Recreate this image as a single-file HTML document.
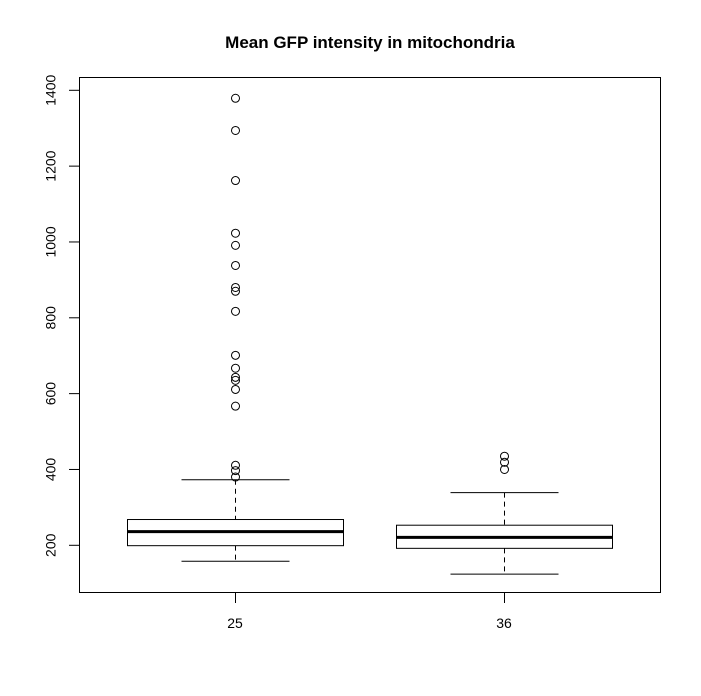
<!DOCTYPE html>
<html><head><meta charset="utf-8"><style>
body{margin:0;background:#fff;}
svg text{font-family:"Liberation Sans",Arial,sans-serif;}
</style></head><body>
<svg id="chart" width="701" height="691" xmlns="http://www.w3.org/2000/svg">
<text x="370" y="48" text-anchor="middle" font-size="17" font-weight="bold">Mean GFP intensity in mitochondria</text>
<rect x="79.5" y="77.5" width="581" height="515" fill="none" stroke="#000"/>
<g id="axes"></g><g id="boxes"></g>
</svg>
<script>
const categories = ["25","36"];
const lowerWhisker = [158, 124];
const q1 = [199, 192];
const medians = [236, 221];
const q3 = [268, 253];
const upperWhisker = [373, 339];
const outliers = [
  [1379,1294,1162,1023,991,938,880,870,817,701,667,643,635,611,567,411,397,380],
  [435,419,400]
];
const yTicks = [200,400,600,800,1000,1200,1400];

const NS="http://www.w3.org/2000/svg";
function y(v){return 545.3-(v-200)*0.37917;}
function x(i){return 235+i*269;}
function mk(tag,attrs,parent){const e=document.createElementNS(NS,tag);for(const k in attrs)e.setAttribute(k,attrs[k]);parent.appendChild(e);return e;}
const axes=document.getElementById('axes'), boxes=document.getElementById('boxes');
yTicks.forEach(t=>{
  const l=mk('line',{x1:69,x2:79.5,y1:y(t),y2:y(t),stroke:'#000'},axes);
  
  
  const tx=mk('text',{x:0,y:0,'font-size':14,'text-anchor':'middle',transform:`translate(55.5,${y(t)}) rotate(-90)`},axes);
  tx.textContent=t;
  
  
});
categories.forEach((c,i)=>{
  const l=mk('line',{x1:x(i)+.5,x2:x(i)+.5,y1:592.5,y2:603,stroke:'#000'},axes);
  
  
  const tx=mk('text',{x:x(i),y:628,'font-size':14,'text-anchor':'middle'},axes);
  tx.textContent=c;
  
  
  const g=mk('g',{},boxes);
  
  
  const cx=x(i)+.5;
  mk('line',{x1:cx,x2:cx,y1:y(upperWhisker[i]),y2:y(q3[i]),stroke:'#000','stroke-dasharray':'5,4'},g);
  mk('line',{x1:cx,x2:cx,y1:y(q1[i]),y2:y(lowerWhisker[i]),stroke:'#000','stroke-dasharray':'5,4'},g);
  mk('line',{x1:cx-54,x2:cx+54,y1:y(upperWhisker[i]),y2:y(upperWhisker[i]),stroke:'#000'},g);
  mk('line',{x1:cx-54,x2:cx+54,y1:y(lowerWhisker[i]),y2:y(lowerWhisker[i]),stroke:'#000'},g);
  mk('rect',{x:cx-108,y:y(q3[i]),width:216,height:y(q1[i])-y(q3[i]),fill:'#fff',stroke:'#000'},g);
  mk('line',{x1:cx-108,x2:cx+108,y1:y(medians[i]),y2:y(medians[i]),stroke:'#000','stroke-width':3},g);
  outliers[i].forEach(v=>{
    const o=mk('circle',{cx:cx,cy:y(v),r:4,fill:'none',stroke:'#000'},g);
    
    
  });
});
</script>
</body></html>
